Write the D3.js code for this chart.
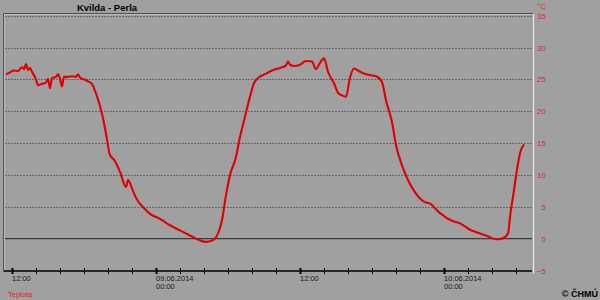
<!DOCTYPE html>
<html><head><meta charset="utf-8">
<script src="https://cdn.jsdelivr.net/npm/d3@7"></script>
<style>html,body{margin:0;padding:0;background:#a0a0a0;}svg{display:block;}</style>
</head><body>
<svg id="c" width="600" height="300"></svg>
<script>
const title = "Kvilda - Perla";
const seriesName = "Teplota";
const unit = "°C";
const credit = "© ČHMÚ";
const yTicks = [-5, 0, 5, 10, 15, 20, 25, 30, 35];
const times = [
 "2014-06-08 11:30","2014-06-08 11:50","2014-06-08 12:10","2014-06-08 12:30","2014-06-08 12:50",
 "2014-06-08 13:00","2014-06-08 13:10","2014-06-08 13:20","2014-06-08 13:30","2014-06-08 13:40",
 "2014-06-08 14:00","2014-06-08 14:10","2014-06-08 14:30","2014-06-08 14:50","2014-06-08 15:00",
 "2014-06-08 15:10","2014-06-08 15:20","2014-06-08 15:40","2014-06-08 15:50","2014-06-08 16:00",
 "2014-06-08 16:10","2014-06-08 16:20","2014-06-08 16:40","2014-06-08 17:00","2014-06-08 17:20",
 "2014-06-08 17:30","2014-06-08 17:40","2014-06-08 18:00","2014-06-08 18:20","2014-06-08 18:40",
 "2014-06-08 18:50","2014-06-08 19:00","2014-06-08 19:30","2014-06-08 19:50","2014-06-08 20:10",
 "2014-06-08 20:30","2014-06-08 21:00","2014-06-08 21:30","2014-06-08 21:40","2014-06-08 22:00",
 "2014-06-08 22:20","2014-06-08 23:00","2014-06-08 23:30","2014-06-09 00:20","2014-06-09 01:10",
 "2014-06-09 02:00","2014-06-09 02:50","2014-06-09 03:40","2014-06-09 04:10","2014-06-09 04:40",
 "2014-06-09 05:10","2014-06-09 05:30","2014-06-09 05:50","2014-06-09 06:10","2014-06-09 06:40",
 "2014-06-09 07:00","2014-06-09 07:20","2014-06-09 07:50","2014-06-09 08:10","2014-06-09 08:30",
 "2014-06-09 09:10","2014-06-09 09:50","2014-06-09 10:20","2014-06-09 10:50","2014-06-09 11:00",
 "2014-06-09 11:10","2014-06-09 11:30","2014-06-09 12:00","2014-06-09 12:30","2014-06-09 13:00",
 "2014-06-09 13:20","2014-06-09 13:40","2014-06-09 14:00","2014-06-09 14:20","2014-06-09 14:50",
 "2014-06-09 15:10","2014-06-09 15:30","2014-06-09 15:50","2014-06-09 16:10","2014-06-09 16:30",
 "2014-06-09 17:00","2014-06-09 17:30","2014-06-09 18:20","2014-06-09 18:50","2014-06-09 19:10",
 "2014-06-09 19:40","2014-06-09 20:00","2014-06-09 20:30","2014-06-09 21:00","2014-06-09 21:30",
 "2014-06-09 22:20","2014-06-09 22:50","2014-06-09 23:40","2014-06-10 00:40","2014-06-10 01:20",
 "2014-06-10 02:10","2014-06-10 03:00","2014-06-10 03:40","2014-06-10 04:20","2014-06-10 04:50",
 "2014-06-10 05:20","2014-06-10 05:30","2014-06-10 05:50","2014-06-10 06:10","2014-06-10 06:20",
 "2014-06-10 06:40"
];
const temps = [
 25.8,26.1,26.4,26.3,26.9,
 26.6,27.4,26.5,26.8,26.2,
 25.0,24.1,24.3,24.5,25.1,
 23.6,25.2,25.4,25.8,25.1,
 23.9,25.4,25.4,25.5,25.4,
 25.8,25.3,25.0,24.7,24.3,
 23.6,22.8,19.6,16.5,13.1,
 12.4,10.5,8.1,9.2,7.9,
 6.4,4.8,3.9,3.1,2.1,
 1.3,0.5,-0.27,-0.5,-0.3,
 0.8,2.9,6.8,10.0,12.8,
 16.0,18.5,22.3,24.4,25.2,
 25.9,26.5,26.8,27.2,27.8,
 27.3,27.1,27.3,27.9,27.8,
 26.6,27.6,28.3,26.2,24.4,
 22.9,22.5,22.3,25.3,26.7,
 26.2,25.8,25.5,24.6,21.7,
 18.3,14.7,11.5,9.2,7.5,
 5.8,5.5,4.0,2.8,2.4,
 1.4,0.8,0.36,-0.1,0.0,
 0.8,3.4,7.6,11.8,13.4,
 14.8
];

const parse = d3.timeParse("%Y-%m-%d %H:%M");
const data = times.map((t, i) => ({t: parse(t), v: temps[i]}));
const fmtDate = d3.timeFormat("%d.%m.%Y");
const fmtHM = d3.timeFormat("%H:%M");

const svg = d3.select("#c");
svg.append("rect").attr("width", 600).attr("height", 300).attr("fill", "#a0a0a0");

const x = d3.scaleTime()
  .domain([parse("2014-06-08 11:20"), parse("2014-06-10 07:20")])
  .range([4, 532]);
const y = d3.scaleLinear().domain([-5, 35]).range([270.5, 15.7]);

// grid
svg.append("g").selectAll("line").data(yTicks.filter(d => d !== 0 && d !== -5)).join("line")
  .attr("x1", 5).attr("x2", 532)
  .attr("y1", d => Math.round(y(d)) + 0.5).attr("y2", d => Math.round(y(d)) + 0.5)
  .attr("stroke", "#666666").attr("stroke-width", 1).attr("stroke-dasharray", "2,1");
// zero line
svg.append("line").attr("x1", 5).attr("x2", 532)
  .attr("y1", y(0)).attr("y2", y(0))
  .attr("stroke", "#3a3a3a").attr("stroke-width", 1.4);

// frame
svg.append("path").attr("d", "M3.5,272 V13.5 H533").attr("fill", "none").attr("stroke", "#505050");
svg.append("path").attr("d", "M4.5,271 V14.5 H532").attr("fill", "none").attr("stroke", "#c8c8c8").attr("stroke-opacity", 0.7);
svg.append("line").attr("x1", 533.5).attr("x2", 533.5).attr("y1", 14).attr("y2", 273.5)
  .attr("stroke", "#e6e6e6").attr("stroke-width", 1.3);

// line
svg.append("path").datum(data)
  .attr("fill", "none").attr("stroke", "#e00000").attr("stroke-width", 2.1)
  .attr("stroke-linejoin", "round")
  .attr("d", d3.line().curve(d3.curveMonotoneX).x(d => x(d.t)).y(d => y(d.v)));

// x axis
const xAxis = d3.axisBottom(x)
  .tickValues(d3.timeHour.every(2).range(parse("2014-06-08 12:00"), parse("2014-06-10 07:00")))
  .tickSize(0).tickFormat("");
const gx = svg.append("g").attr("transform", "translate(0,271)").call(xAxis);
gx.select(".domain").remove();
svg.append("line").attr("x1", 4).attr("x2", 532).attr("y1", 271).attr("y2", 271)
  .attr("stroke", "#000").attr("stroke-width", 1.6);
const tickFont = "7.5px 'Liberation Sans', Arial, sans-serif";
gx.selectAll(".tick").each(function(d) {
  const g = d3.select(this);
  const major = d.getHours() % 12 === 0;
  g.append("line").attr("y1", -3).attr("y2", 3).attr("stroke", "#000")
    .attr("stroke-width", major ? 2 : 1);
  if (d.getHours() === 12) {
    g.append("text").attr("x", -0.5).attr("y", 10).attr("text-anchor", "start")
      .attr("fill", "#1a1a1a").style("font", tickFont).text(fmtHM(d));
  } else if (d.getHours() === 0) {
    g.append("text").attr("x", -0.5).attr("y", 10).attr("text-anchor", "start")
      .attr("fill", "#1a1a1a").style("font", tickFont).text(fmtDate(d));
    g.append("text").attr("x", -0.5).attr("y", 17.5).attr("text-anchor", "start")
      .attr("fill", "#1a1a1a").style("font", tickFont).text(fmtHM(d));
  }
});

// y axis labels on right
const yAxis = d3.axisRight(y).tickValues(yTicks).tickSize(0).tickPadding(0).tickFormat(d3.format("d"));
const gy = svg.append("g").attr("transform", "translate(546,0)").call(yAxis);
gy.select(".domain").remove();
gy.selectAll("text").attr("text-anchor", "end").attr("x", 0).attr("fill", "#e0202a")
  .style("font", "8px 'Liberation Sans', Arial, sans-serif");
svg.append("text").attr("x", 546).attr("y", 9).attr("text-anchor", "end").attr("fill", "#e0202a")
  .style("font", "8px 'Liberation Sans', Arial, sans-serif").text(unit);

// title
svg.append("text").attr("x", 107).attr("y", 10.5).attr("text-anchor", "middle").attr("fill", "#000")
  .style("font", "bold 9.5px 'Liberation Sans', Arial, sans-serif").text(title);
// legend
svg.append("text").attr("x", 8).attr("y", 297).attr("fill", "#e0202a")
  .style("font", "7.5px 'Liberation Sans', Arial, sans-serif").text(seriesName);
// credit
svg.append("text").attr("x", 598).attr("y", 297).attr("text-anchor", "end").attr("fill", "#000")
  .style("font", "bold 9px 'Liberation Sans', Arial, sans-serif").text(credit);
</script>
</body></html>
